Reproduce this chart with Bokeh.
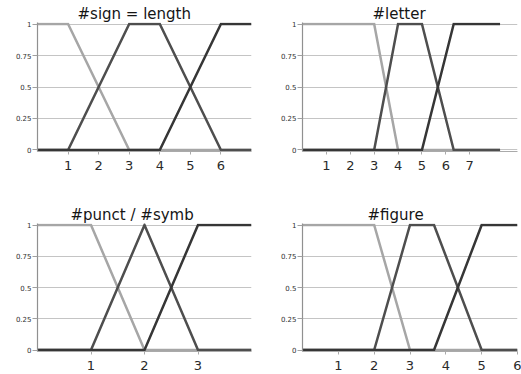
from bokeh.plotting import figure
from bokeh.layouts import gridplot
from bokeh.models import Range1d, FixedTicker
from bokeh.embed import file_html
from bokeh.resources import INLINE

# ---- data ----
titles = ["#sign = length", "#letter", "#punct / #symb", "#figure"]
x_max = [7, 9, 4, 6]
x_ticks = [[1, 2, 3, 4, 5, 6], [1, 2, 3, 4, 5, 6, 7], [1, 2, 3], [1, 2, 3, 4, 5, 6]]
y_ticks = [0, 0.25, 0.5, 0.75, 1]

# panel 1: #sign = length
p1_low_x = [0, 1, 3, 7]
p1_low_y = [1, 1, 0, 0]
p1_mid_x = [0, 1, 3, 4, 6, 7]
p1_mid_y = [0, 0, 1, 1, 0, 0]
p1_high_x = [0, 4, 6, 7]
p1_high_y = [0, 0, 1, 1]

# panel 2: #letter
p2_low_x = [0, 3, 4, 8.27]
p2_low_y = [1, 1, 0, 0]
p2_mid_x = [0, 3, 4, 5, 6.33, 8.27]
p2_mid_y = [0, 0, 1, 1, 0, 0]
p2_high_x = [0, 5, 6.33, 8.27]
p2_high_y = [0, 0, 1, 1]

# panel 3: #punct / #symb
p3_low_x = [0, 1, 2, 4]
p3_low_y = [1, 1, 0, 0]
p3_mid_x = [0, 1, 2, 3, 4]
p3_mid_y = [0, 0, 1, 0, 0]
p3_high_x = [0, 2, 3, 4]
p3_high_y = [0, 0, 1, 1]

# panel 4: #figure
p4_low_x = [0, 2, 3, 6]
p4_low_y = [1, 1, 0, 0]
p4_mid_x = [0, 2, 3, 3.67, 5, 6]
p4_mid_y = [0, 0, 1, 1, 0, 0]
p4_high_x = [0, 3.67, 5, 6]
p4_high_y = [0, 0, 1, 1]

series = [
    [(p1_low_x, p1_low_y), (p1_mid_x, p1_mid_y), (p1_high_x, p1_high_y)],
    [(p2_low_x, p2_low_y), (p2_mid_x, p2_mid_y), (p2_high_x, p2_high_y)],
    [(p3_low_x, p3_low_y), (p3_mid_x, p3_mid_y), (p3_high_x, p3_high_y)],
    [(p4_low_x, p4_low_y), (p4_mid_x, p4_mid_y), (p4_high_x, p4_high_y)],
]

colors = ["#a6a6a6", "#4e4e4e", "#363636"]
FONT = "DejaVu Sans"

# per panel: width, height, border left, right, top, bottom, title offset
geom = [
    (260, 186, 36, 9, 22, 35, 40),
    (261, 186, 42, 4, 22, 35, 70),
    (260, 188, 37, 8, 37, 23, 33),
    (261, 188, 42, 4, 37, 23, 65),
]


def make(i):
    w, h, bl, br, bt, bb, toff = geom[i]
    p = figure(width=w, height=h, output_backend="svg", toolbar_location=None,
               x_range=Range1d(0, x_max[i]), y_range=Range1d(-0.012, 1.012),
               min_border_left=bl, min_border_right=br,
               min_border_top=bt, min_border_bottom=bb,
               background_fill_color="white", border_fill_color="white")
    p.outline_line_color = None
    p.title.text = titles[i]
    p.title.align = "left"
    p.title.offset = toff
    p.title.text_font = FONT
    p.title.text_font_size = "15px"
    p.title.text_font_style = "normal"
    p.title.text_color = "#151515"
    p.title.standoff = 0

    p.xgrid.grid_line_color = None
    p.ygrid.grid_line_color = "#c4c4c4"
    p.ygrid.grid_line_width = 1

    xa = p.xaxis[0]
    xa.ticker = FixedTicker(ticks=x_ticks[i])
    xa.axis_line_color = "#aaaaaa"
    xa.axis_line_width = 1
    xa.major_tick_line_color = "#aaaaaa"
    xa.major_tick_out = 3
    xa.major_tick_in = 0
    xa.minor_tick_line_color = None
    xa.major_label_text_font = FONT
    xa.major_label_text_font_size = "13px"
    xa.major_label_text_color = "#2a2a2a"
    xa.major_label_standoff = 6

    ya = p.yaxis[0]
    ya.ticker = FixedTicker(ticks=y_ticks)
    ya.major_label_overrides = {0: "0", 0.25: "0.25", 0.5: "0.5", 0.75: "0.75", 1: "1"}
    ya.axis_line_color = "#909090"
    ya.axis_line_width = 1.2
    ya.major_tick_line_color = "#a0a0a0"
    ya.major_tick_out = 5
    ya.major_tick_in = 0
    ya.minor_tick_line_color = None
    ya.major_label_text_font = FONT
    ya.major_label_text_font_size = "7px"
    ya.major_label_text_color = "#303030"
    ya.major_label_standoff = 1

    for (xs, ys), c in zip(series[i], colors):
        p.line(xs, ys, line_color=c, line_width=2.5, line_join="miter")
    return p


plots = [make(i) for i in range(4)]
grid = gridplot([[plots[0], plots[1]], [plots[2], plots[3]]], toolbar_location=None)

open("out.html", "w").write(file_html(grid, INLINE))
